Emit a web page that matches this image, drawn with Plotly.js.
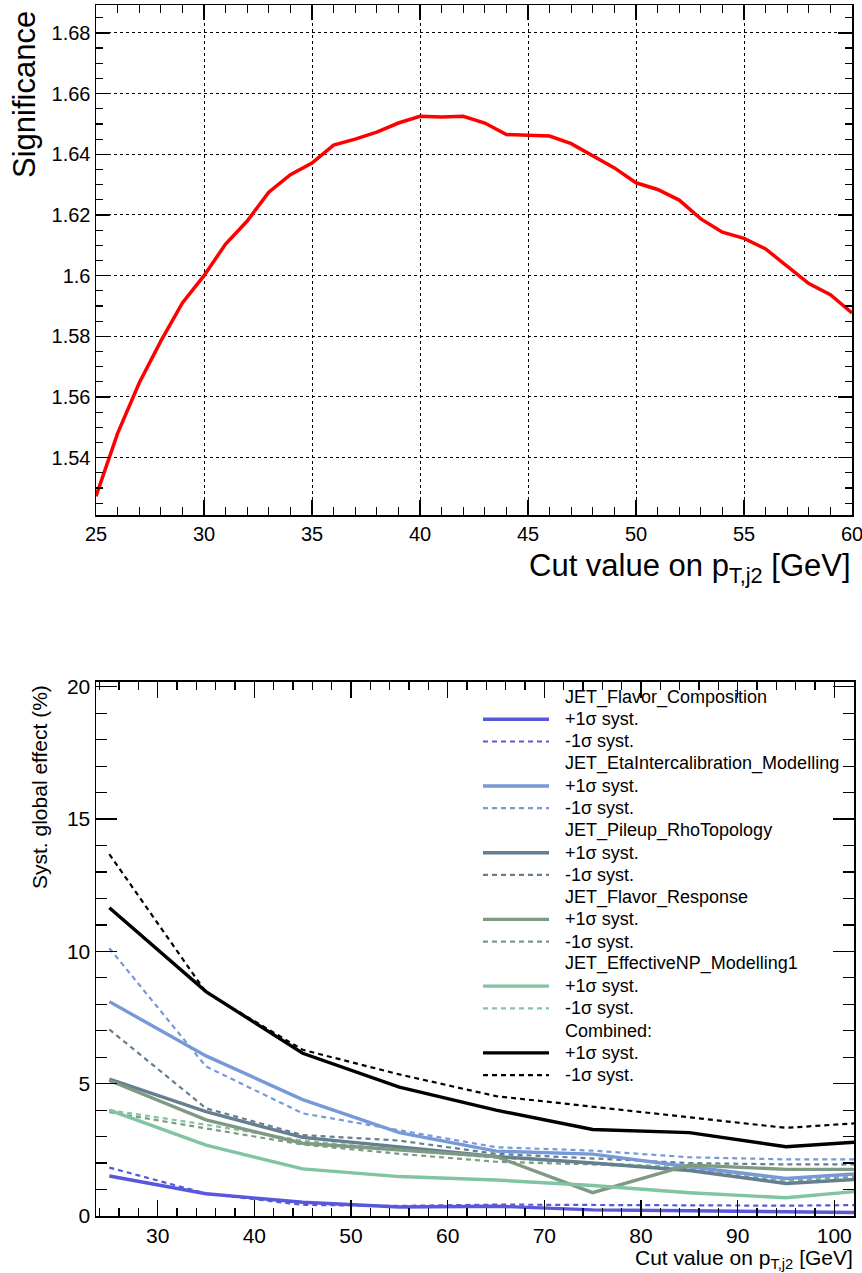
<!DOCTYPE html>
<html>
<head>
<meta charset="utf-8">
<script src="https://cdn.plot.ly/plotly-3.0.1.min.js"></script>
<style>
html,body{margin:0;padding:0;background:#fff;}
#chart{width:862px;height:1273px;}
</style>
</head>
<body>
<div id="chart"></div>
<script>
// ---------- Top panel: significance vs cut value ----------
const sigCut = [25,26,27,28,29,30,31,32,33,34,35,36,37,38,39,40,41,42,43,44,45,46,47,48,49,50,51,52,53,54,55,56,57,58,59,60];
const significance = [1.5273,1.5480,1.5646,1.5784,1.5910,1.6000,1.6104,1.6180,1.6275,1.6333,1.6371,1.6430,1.6450,1.6473,1.6503,1.6525,1.6523,1.6525,1.6503,1.6465,1.6463,1.6460,1.6435,1.6396,1.6355,1.6306,1.6284,1.6249,1.6187,1.6143,1.6123,1.6088,1.6031,1.5974,1.5937,1.5877];

// ---------- Bottom panel: systematic effects ----------
const systCut = [25,35,45,55,65,75,85,95,105];
const systNames = ["JET_Flavor_Composition","JET_EtaIntercalibration_Modelling","JET_Pileup_RhoTopology","JET_Flavor_Response","JET_EffectiveNP_Modelling1","Combined:"];
const flavCompUp   = [1.51,0.84,0.52,0.34,0.37,0.23,0.20,0.17,0.12];
const flavCompDown = [1.83,0.85,0.42,0.38,0.43,0.41,0.40,0.39,0.42];
const etaIntUp     = [8.10,6.05,4.40,3.15,2.45,2.34,1.86,1.42,1.66];
const etaIntDown   = [10.12,5.65,3.88,3.25,2.60,2.47,2.22,2.14,2.14];
const pileupUp     = [5.17,3.94,2.97,2.60,2.25,2.00,1.72,1.23,1.44];
const pileupDown   = [7.05,4.07,3.06,2.85,2.35,2.18,2.00,1.95,1.95];
const flavRespUp   = [5.12,3.63,2.75,2.49,2.25,0.88,1.93,1.76,1.76];
const flavRespDown = [3.92,3.30,2.70,2.35,2.05,1.95,1.80,1.33,1.55];
const effNPUp      = [4.00,2.68,1.78,1.49,1.36,1.15,0.88,0.69,1.02];
const effNPDown    = [4.00,3.45,2.85,2.50,2.20,2.00,1.84,1.36,1.63];
const combUp       = [11.65,8.48,6.15,4.87,4.00,3.27,3.15,2.62,2.86];
const combDown     = [13.67,8.45,6.28,5.35,4.53,4.13,3.75,3.33,3.57];
const upLabel = "+1σ syst.";
const downLabel = "-1σ syst.";

const colors = ["#5858dc","#7799d8","#667f90","#7f9a82","#80c4a2","#000000"];
const upSeries = [flavCompUp, etaIntUp, pileupUp, flavRespUp, effNPUp, combUp];
const downSeries = [flavCompDown, etaIntDown, pileupDown, flavRespDown, effNPDown, combDown];

const W = 862, H = 1273;
const px = v => v / W;
const py = v => 1 - v / H;

const fam = "Liberation Sans, Arial, Helvetica, sans-serif";

const traces = [];
traces.push({
  x: sigCut, y: significance, type: "scatter", mode: "lines",
  line: {color: "#ff0000", width: 3.5}, xaxis: "x", yaxis: "y", showlegend: false, hoverinfo: "skip"
});
for (let i = 0; i < systNames.length; i++) {
  traces.push({
    x: systCut, y: downSeries[i], type: "scatter", mode: "lines",
    line: {color: colors[i], width: 2.2, dash: "5px,4px"}, xaxis: "x2", yaxis: "y2",
    showlegend: false, name: systNames[i] + " " + downLabel
  });
}
for (let i = 0; i < systNames.length; i++) {
  traces.push({
    x: systCut, y: upSeries[i], type: "scatter", mode: "lines",
    line: {color: colors[i], width: 3.4}, xaxis: "x2", yaxis: "y2",
    showlegend: false, name: systNames[i] + " " + upLabel
  });
}

// manual legend (ROOT style)
const shapes = [];
const annotations = [];
const rowY0 = 697, rowStep = 22.24;
let row = 0;
for (let i = 0; i < systNames.length; i++) {
  annotations.push({xref:"paper", yref:"paper", x: px(563), y: py(rowY0 + row*rowStep), xanchor:"left", yanchor:"middle",
    text: systNames[i], showarrow:false, font:{family:fam, size:18, color:"#000"}});
  row++;
  shapes.push({type:"line", xref:"paper", yref:"paper", x0: px(483), x1: px(549), y0: py(rowY0 + row*rowStep), y1: py(rowY0 + row*rowStep),
    line:{color: colors[i], width: 3.4}});
  annotations.push({xref:"paper", yref:"paper", x: px(563), y: py(rowY0 + row*rowStep), xanchor:"left", yanchor:"middle",
    text: upLabel, showarrow:false, font:{family:fam, size:18, color:"#000"}});
  row++;
  shapes.push({type:"line", xref:"paper", yref:"paper", x0: px(483), x1: px(549), y0: py(rowY0 + row*rowStep), y1: py(rowY0 + row*rowStep),
    line:{color: colors[i], width: 2.2, dash:"5px,4px"}});
  annotations.push({xref:"paper", yref:"paper", x: px(563), y: py(rowY0 + row*rowStep), xanchor:"left", yanchor:"middle",
    text: downLabel, showarrow:false, font:{family:fam, size:18, color:"#000"}});
  row++;
}

// axis titles (ROOT style, aligned to axis ends)
annotations.push({xref:"paper", yref:"paper", x: px(25), y: py(95), xanchor:"center", yanchor:"middle", textangle:-90,
  text:"Significance", showarrow:false, font:{family:fam, size:31, color:"#000"}});
annotations.push({xref:"paper", yref:"paper", x: px(853), y: py(568), xanchor:"right", yanchor:"middle",
  text:"Cut value on p<sub>T,j2</sub> [GeV]", showarrow:false, font:{family:fam, size:31, color:"#000"}});
annotations.push({xref:"paper", yref:"paper", x: px(39), y: py(787), xanchor:"center", yanchor:"middle", textangle:-90,
  text:"Syst. global effect (%)", showarrow:false, font:{family:fam, size:21, color:"#000"}});
annotations.push({xref:"paper", yref:"paper", x: px(855), y: py(1259), xanchor:"right", yanchor:"middle",
  text:"Cut value on p<sub>T,j2</sub> [GeV]", showarrow:false, font:{family:fam, size:21, color:"#000"}});

const axBase = {
  showline: true, linecolor: "#000", linewidth: 1.5, mirror: "ticks",
  ticks: "inside", tickcolor: "#000", tickwidth: 1.2,
  zeroline: false, fixedrange: true, ticklabeloverflow: "allow"
};

const layout = {
  width: W, height: H,
  margin: {l:0, r:0, t:0, b:0},
  paper_bgcolor: "#fff", plot_bgcolor: "#fff",
  showlegend: false,
  font: {family: fam, color: "#000"},
  xaxis: Object.assign({}, axBase, {
    domain: [px(96), px(852)], anchor: "y", range: [25, 60.0001],
    tickvals: [25,30,35,40,45,50,55,60], ticklen: 15,
    tickfont: {family: fam, size: 20},
    showgrid: true, gridcolor: "#000", griddash: "dot", gridwidth: 1,
    minor: {dtick: 1, tick0: 25, ticklen: 8, ticks: "inside", tickcolor: "#000", tickwidth: 1.2, showgrid: false}
  }),
  yaxis: Object.assign({}, axBase, {
    domain: [py(515), py(5)], anchor: "x", range: [1.5211, 1.6892],
    tickvals: [1.54,1.56,1.58,1.6,1.62,1.64,1.66,1.68], ticktext: ["1.54","1.56","1.58","1.6","1.62","1.64","1.66","1.68"],
    ticklen: 14, tickfont: {family: fam, size: 20},
    showgrid: true, gridcolor: "#000", griddash: "dot", gridwidth: 1,
    minor: {dtick: 0.005, tick0: 1.52, ticklen: 7, ticks: "inside", tickcolor: "#000", tickwidth: 1.2, showgrid: false}
  }),
  xaxis2: Object.assign({}, axBase, {
    domain: [px(96), px(854)], anchor: "y2", range: [23.62, 102.04],
    tickvals: [30,40,50,60,70,80,90,100], ticklen: 16,
    tickfont: {family: fam, size: 21}, showgrid: false,
    minor: {dtick: 2, tick0: 24, ticklen: 8, ticks: "inside", tickcolor: "#000", tickwidth: 1.2, showgrid: false}
  }),
  yaxis2: Object.assign({}, axBase, {
    domain: [py(1216), py(681.7)], anchor: "x2", range: [0, 20.19],
    tickvals: [0,5,10,15,20], ticklen: 21,
    tickfont: {family: fam, size: 21}, showgrid: false,
    minor: {dtick: 1, tick0: 0, ticklen: 11, ticks: "inside", tickcolor: "#000", tickwidth: 1.2, showgrid: false}
  }),
  shapes: shapes,
  annotations: annotations
};

Plotly.newPlot("chart", traces, layout, {displayModeBar: false, staticPlot: true});
</script>
</body>
</html>
